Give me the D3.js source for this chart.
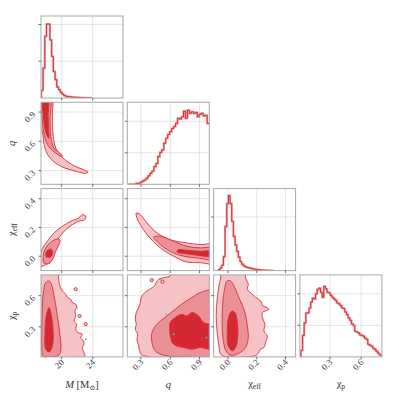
<!DOCTYPE html>
<html>
<head>
<meta charset="utf-8">
<script src="https://cdn.jsdelivr.net/npm/d3@7"></script>
<style>
  body { margin: 0; background: #fff; }
  text { font-family: "Liberation Serif", "DejaVu Serif", serif; }
</style>
</head>
<body>
<div id="chart"></div>
<script>
// ---- axis setup (data) ----
const mDomain = [17.33, 27.9];
const qDomain = [0.16, 1.0];
const chiEffDomain = [-0.1, 0.47];
const chiPDomain = [0.01, 0.8];

const mTicks = [20, 24];
const qTicks = [0.3, 0.6, 0.9];
const chiEffTicks = [0.0, 0.2, 0.4];
const chiPTicks = [0.3, 0.6];

// ---- 1D histograms (bin start, bin width, heights) ----
const mHistStart = 17.38, mHistWidth = 0.22;
const mHist = [0.21, 0.81, 1.68, 2.01, 2.01, 1.58, 1.13, 0.72, 0.50, 0.30, 0.23, 0.16, 0.11, 0.07, 0.05,
  0.04, 0.035, 0.03, 0.025, 0.02, 0.018, 0.015, 0.012, 0.01, 0.008, 0.006, 0.005, 0.004, 0.003];
const mHistTicks = [1, 2], mHistMax = 2.23;

const qHistStart = 0.17, qHistWidth = 0.0202;
const qHist = [0, 0, 0, 0, 0.03, 0.03, 0.06, 0.1, 0.14, 0.19, 0.27, 0.35, 0.42, 0.56, 0.66, 0.88, 1.01, 1.09,
  1.30, 1.46, 1.58, 1.67, 1.77, 1.83, 1.93, 2.09, 2.07, 2.14, 2.32, 2.09, 2.35, 2.25, 2.30, 2.25, 2.28,
  2.14, 2.22, 2.25, 2.17, 2.19, 1.93, 1.93];
const qHistTicks = [1, 2], qHistMax = 2.6;

const chiEffHistStart = -0.066, chiEffHistWidth = 0.0115;
const chiEffHist = [0.02, 0.05, 0.1, 0.26, 0.82, 1.25, 1.40, 1.25, 0.92, 0.64, 0.48, 0.36, 0.25, 0.17, 0.12,
  0.09, 0.07, 0.06, 0.05, 0.044, 0.035, 0.03, 0.025, 0.02, 0.016, 0.012, 0.01, 0.008, 0.006, 0.005,
  0.004, 0.003, 0.002];
const chiEffHistTicks = [1], chiEffHistMax = 1.53;

const chiPHistStart = 0.02, chiPHistWidth = 0.0157;
const chiPHist = [0.21, 0.68, 1.08, 1.39, 1.40, 1.55, 1.74, 1.86, 1.84, 2.0, 2.14, 2.18, 2.05, 1.89, 2.24,
  2.16, 2.05, 2.03, 1.95, 1.89, 1.84, 1.79, 1.71, 1.68, 1.63, 1.55, 1.53, 1.42, 1.34, 1.23, 1.16, 1.05,
  1.0, 0.81, 0.79, 0.76, 0.70, 0.68, 0.66, 0.60, 0.56, 0.40, 0.37, 0.34, 0.28, 0.24, 0.18, 0.13, 0.07, 0.05];
const chiPHistTicks = [1, 2], chiPHistMax = 2.6;

// ---- 2D credible contours [x, y] in data units: outer, middle, inner ----
const qM_outer = [[17.2,1.05],[17.2,0.74],[17.5,0.70],[17.72,0.57],[18.15,0.47],[19.0,0.39],[20.3,0.33],
  [22.0,0.29],[23.1,0.272],[23.4,0.285],[22.9,0.307],[21.6,0.35],[20.3,0.42],[19.66,0.47],[19.23,0.53],
  [19.0,0.6],[18.85,0.7],[18.8,0.8],[18.8,0.9],[18.75,1.05]];
const qM_mid = [[17.45,1.05],[17.5,0.82],[17.75,0.66],[18.3,0.55],[19.2,0.48],[20.0,0.445],[20.15,0.45],
  [19.6,0.49],[19.0,0.53],[18.7,0.6],[18.55,0.7],[18.5,0.82],[18.5,1.05]];
const qM_inner = [[17.6,1.05],[17.65,0.85],[17.85,0.72],[18.1,0.66],[18.35,0.63],[18.3,0.72],[18.25,0.85],[18.2,1.05]];

const chiEffM_outer = [[17.3,-0.07],[17.35,0.034],[18.15,0.104],[19.0,0.162],[20.1,0.208],[21.16,0.243],
  [22.2,0.266],[22.66,0.289],[23.1,0.278],[22.97,0.254],[22.2,0.243],[21.38,0.22],[20.52,0.185],
  [19.79,0.139],[19.23,0.092],[19.0,0.023],[18.58,-0.035],[17.94,-0.058]];
const chiEffM_mid = [[17.72,-0.047],[17.63,0.011],[17.94,0.058],[18.58,0.097],[19.44,0.12],[19.79,0.111],
  [19.66,0.081],[19.23,0.034],[18.8,-0.024],[18.37,-0.051]];
const chiEffM_inner = [[17.94,0.011],[18.15,0.041],[18.67,0.048],[18.84,0.023],[18.58,-0.005],[18.06,-0.007]];

const chiPM_outer = [[17.2,0.85],[19.6,0.85],[19.6,0.79],[19.7,0.71],[20.09,0.646],[20.52,0.614],
  [20.73,0.582],[21.16,0.566],[21.38,0.533],[21.8,0.518],[21.94,0.485],[21.7,0.453],[21.8,0.405],
  [21.59,0.357],[21.94,0.325],[21.8,0.277],[22.1,0.244],[22.66,0.229],[22.45,0.196],[22.8,0.164],
  [22.88,0.132],[22.66,0.1],[22.88,0.052],[23.0,0.02],[22.8,0.005],[17.2,0.005]];
const chiPM_mid = [[17.5,0.03],[17.47,0.405],[17.63,0.63],[17.94,0.726],[18.37,0.742],[18.67,0.71],
  [19.01,0.598],[19.44,0.405],[19.79,0.212],[19.87,0.068],[19.5,0.02],[18.6,0.01],[17.63,0.015]];
const chiPM_inner = [[18.37,0.485],[18.67,0.405],[18.9,0.244],[18.8,0.116],[18.37,0.058],[17.94,0.084],
  [17.85,0.244],[18.0,0.405]];

const chiEffQ_outer = [[0.252,0.301],[0.293,0.289],[0.362,0.231],[0.464,0.162],[0.6,0.115],[0.771,0.092],
  [0.908,0.081],[1.05,0.08],[1.05,-0.047],[0.908,-0.045],[0.771,-0.04],[0.669,-0.012],[0.498,0.058],
  [0.362,0.15],[0.293,0.22],[0.262,0.259]];
const chiEffQ_mid = [[0.43,0.134],[0.498,0.139],[0.634,0.104],[0.771,0.069],[0.908,0.058],[1.05,0.058],
  [1.05,-0.019],[0.874,-0.012],[0.737,0.0],[0.6,0.034],[0.498,0.081],[0.447,0.115]];
const chiEffQ_inner = [[0.669,0.036],[0.686,0.046],[0.771,0.041],[0.908,0.034],[1.05,0.034],[1.05,0.0],
  [0.874,0.007],[0.737,0.02],[0.675,0.027]];

const chiPQ_outer = [[0.6,0.85],[0.6,0.79],[0.532,0.774],[0.481,0.758],[0.447,0.71],[0.43,0.687],
  [0.362,0.646],[0.31,0.598],[0.293,0.533],[0.276,0.485],[0.252,0.437],[0.242,0.373],[0.252,0.325],
  [0.242,0.277],[0.266,0.229],[0.259,0.18],[0.276,0.116],[0.3,0.036],[0.344,0.018],[1.05,0.015],[1.05,0.85]];
const chiPQ_mid = [[1.05,0.646],[0.908,0.63],[0.823,0.582],[0.737,0.533],[0.652,0.469],[0.566,0.405],
  [0.464,0.325],[0.413,0.244],[0.413,0.148],[0.447,0.068],[0.532,0.026],[0.771,0.01],[1.05,0.02]];
const chiPQ_inner = [[0.594,0.277],[0.6,0.341],[0.652,0.389],[0.72,0.421],[0.771,0.405],[0.823,0.437],
  [0.89,0.405],[0.942,0.341],[1.05,0.309],[1.05,0.084],[0.908,0.1],[0.823,0.084],[0.737,0.1],
  [0.634,0.132],[0.6,0.212]];

const chiPChiEff_outer = [[-0.051,0.85],[0.122,0.85],[0.122,0.774],[0.141,0.71],[0.134,0.662],[0.169,0.614],
  [0.192,0.582],[0.227,0.55],[0.243,0.501],[0.273,0.485],[0.284,0.469],[0.261,0.453],[0.238,0.437],
  [0.243,0.373],[0.257,0.325],[0.25,0.26],[0.273,0.212],[0.261,0.148],[0.25,0.1],[0.227,0.084],
  [0.2,0.03],[0.15,0.012],[-0.017,0.013],[-0.051,0.036],[-0.063,0.116],[-0.075,0.244],[-0.082,0.405],
  [-0.075,0.566],[-0.063,0.694],[-0.051,0.774]];
const chiPChiEff_mid = [[-0.005,0.742],[-0.028,0.63],[-0.04,0.405],[-0.034,0.18],[-0.014,0.068],[0.018,0.026],
  [0.076,0.045],[0.122,0.1],[0.141,0.196],[0.134,0.309],[0.118,0.437],[0.076,0.582],[0.041,0.694],[0.018,0.742]];
const chiPChiEff_inner = [[0.03,0.453],[0.006,0.405],[-0.005,0.244],[0.002,0.116],[0.03,0.068],[0.057,0.116],
  [0.069,0.244],[0.064,0.357],[0.048,0.437]];

// small outlying islands of the outer contour
const chiPM_islands = [[21.8,0.662],[22.3,0.405],[23.1,0.325]];
const chiPQ_islands = [[0.41,0.75],[0.52,0.735]];

// spots where the second (cyan) run peeks out
const chiPM_cyan = [[21.94,0.48],[23.1,0.18]];
const chiPQ_cyan = [[0.498,0.758],[0.634,0.229],[0.97,0.196],[0.56,0.42]];

// ---- layout ----
const W = 399, H = 399;
const size = 82, step = 86.3, left0 = 41, top0 = 16;
const fills = ["#f5c3c5", "#eb9096", "#d62830"];
const lineRed = "#d0313a";

const params = [
  { domain: mDomain, ticks: mTicks, fmt: d3.format("d"),
    hist: mHist, hs: mHistStart, hw: mHistWidth, hticks: mHistTicks, hmax: mHistMax },
  { domain: qDomain, ticks: qTicks, fmt: d3.format(".1f"),
    hist: qHist, hs: qHistStart, hw: qHistWidth, hticks: qHistTicks, hmax: qHistMax },
  { domain: chiEffDomain, ticks: chiEffTicks, fmt: d3.format(".1f"),
    hist: chiEffHist, hs: chiEffHistStart, hw: chiEffHistWidth, hticks: chiEffHistTicks, hmax: chiEffHistMax },
  { domain: chiPDomain, ticks: chiPTicks, fmt: d3.format(".1f"),
    hist: chiPHist, hs: chiPHistStart, hw: chiPHistWidth, hticks: chiPHistTicks, hmax: chiPHistMax }
];

const contours = {
  "1,0": [qM_outer, qM_mid, qM_inner],
  "2,0": [chiEffM_outer, chiEffM_mid, chiEffM_inner],
  "3,0": [chiPM_outer, chiPM_mid, chiPM_inner],
  "2,1": [chiEffQ_outer, chiEffQ_mid, chiEffQ_inner],
  "3,1": [chiPQ_outer, chiPQ_mid, chiPQ_inner],
  "3,2": [chiPChiEff_outer, chiPChiEff_mid, chiPChiEff_inner]
};
const islands = { "3,0": chiPM_islands, "3,1": chiPQ_islands };
const cyanSpots = { "3,0": chiPM_cyan, "3,1": chiPQ_cyan };

const svg = d3.select("#chart").append("svg")
  .attr("width", W).attr("height", H);

const defs = svg.append("defs");

for (let i = 0; i < 4; i++) {
  for (let j = 0; j <= i; j++) {
    const px = left0 + j * step, py = top0 + i * step;
    const g = svg.append("g").attr("transform", `translate(${px},${py})`);
    const clipId = `clip-${i}-${j}`;
    defs.append("clipPath").attr("id", clipId)
      .append("rect").attr("width", size).attr("height", size);

    const x = d3.scaleLinear().domain(params[j].domain).range([0, size]);
    let y, yTicks;
    if (i === j) {
      y = d3.scaleLinear().domain([0, params[i].hmax]).range([size, 0]);
      yTicks = params[i].hticks;
    } else {
      y = d3.scaleLinear().domain(params[i].domain).range([size, 0]);
      yTicks = params[i].ticks;
    }

    // grid
    g.selectAll(".vg").data(params[j].ticks).enter().append("line")
      .attr("x1", d => x(d)).attr("x2", d => x(d))
      .attr("y1", 0).attr("y2", size)
      .attr("stroke", "#dedede").attr("stroke-width", 0.8);
    g.selectAll(".hg").data(yTicks).enter().append("line")
      .attr("x1", 0).attr("x2", size)
      .attr("y1", d => y(d)).attr("y2", d => y(d))
      .attr("stroke", "#dedede").attr("stroke-width", 0.8);

    const body = g.append("g").attr("clip-path", `url(#${clipId})`);

    if (i === j) {
      const p = params[i];
      const pts = [[p.hs, 0]];
      p.hist.forEach((h, k) => pts.push([p.hs + k * p.hw, h]));
      pts.push([p.hs + p.hist.length * p.hw, 0]);
      const line = d3.line().curve(d3.curveStepAfter)
        .x(d => x(d[0])).y(d => y(d[1]));
      body.append("path").datum(pts).attr("d", line)
        .attr("fill", "none").attr("stroke", "#eba3a7").attr("stroke-width", 2.2);
      body.append("path").datum(pts).attr("d", line)
        .attr("fill", "none").attr("stroke", lineRed).attr("stroke-width", 1);
    } else {
      const shape = d3.line().curve(d3.curveCatmullRomClosed.alpha(0.5))
        .x(d => x(d[0])).y(d => y(d[1]));
      contours[`${i},${j}`].forEach((poly, k) => {
        body.append("path").datum(poly).attr("d", shape)
          .attr("fill", fills[k]).attr("stroke", lineRed).attr("stroke-width", 0.9);
      });
      (islands[`${i},${j}`] || []).forEach(c => {
        body.append("circle").attr("cx", x(c[0])).attr("cy", y(c[1])).attr("r", 1.6)
          .attr("fill", fills[0]).attr("stroke", lineRed).attr("stroke-width", 0.9);
      });
      (cyanSpots[`${i},${j}`] || []).forEach(c => {
        body.append("circle").attr("cx", x(c[0])).attr("cy", y(c[1])).attr("r", 0.9)
          .attr("fill", "#3fc0d8");
      });
    }

    // frame
    g.append("rect").attr("width", size).attr("height", size)
      .attr("fill", "none").attr("stroke", "#a8a8a8").attr("stroke-width", 1);

    // tick marks
    g.selectAll(".bt").data(params[j].ticks).enter().append("line")
      .attr("x1", d => x(d)).attr("x2", d => x(d))
      .attr("y1", size).attr("y2", size + 2.5)
      .attr("stroke", "#444").attr("stroke-width", 0.8);
    g.selectAll(".lt").data(yTicks).enter().append("line")
      .attr("x1", -2.5).attr("x2", 0)
      .attr("y1", d => y(d)).attr("y2", d => y(d))
      .attr("stroke", "#444").attr("stroke-width", 0.8);

    // tick labels
    if (i === 3) {
      g.selectAll(".bl").data(params[j].ticks).enter().append("text")
        .attr("transform", d => `translate(${x(d) + 3},${size + 6}) rotate(-45)`)
        .attr("text-anchor", "end")
        .attr("font-size", 9).attr("fill", "#3a3a3a")
        .text(d => params[j].fmt(d));
    }
    if (j === 0 && i > 0) {
      g.selectAll(".ll").data(yTicks).enter().append("text")
        .attr("transform", d => `translate(-5,${y(d) + 3}) rotate(-45)`)
        .attr("text-anchor", "end")
        .attr("font-size", 9).attr("fill", "#3a3a3a")
        .text(d => params[i].fmt(d));
    }
  }
}

// axis labels
const lab = svg.append("g").attr("fill", "#333").attr("font-size", 10.5).attr("font-style", "normal");
const colCenter = k => left0 + k * step + size / 2;
const rowCenter = k => top0 + k * step + size / 2;

const mLab = lab.append("text").attr("x", colCenter(0)).attr("y", 388).attr("text-anchor", "middle");
mLab.append("tspan").attr("font-style", "italic").text("M");
mLab.append("tspan").text(" [M");
mLab.append("tspan").attr("font-size", 7).attr("dy", 2).text("⊙");
mLab.append("tspan").attr("dy", -2).text("]");

lab.append("text").attr("x", colCenter(1)).attr("y", 388).attr("text-anchor", "middle")
  .attr("font-style", "italic").text("q");

const ceLab = lab.append("text").attr("x", colCenter(2)).attr("y", 387).attr("text-anchor", "middle");
ceLab.append("tspan").text("χ");
ceLab.append("tspan").attr("font-size", 7.5).attr("dy", 2).text("eff");

const cpLab = lab.append("text").attr("x", colCenter(3)).attr("y", 387).attr("text-anchor", "middle");
cpLab.append("tspan").text("χ");
cpLab.append("tspan").attr("font-size", 7.5).attr("dy", 2).text("p");

lab.append("text").attr("transform", `translate(15,${rowCenter(1)}) rotate(-90)`)
  .attr("text-anchor", "middle").attr("font-style", "italic").text("q");
const ceY = lab.append("text").attr("transform", `translate(15,${rowCenter(2)}) rotate(-90)`)
  .attr("text-anchor", "middle");
ceY.append("tspan").text("χ");
ceY.append("tspan").attr("font-size", 7.5).attr("dy", 2).text("eff");
const cpY = lab.append("text").attr("transform", `translate(15,${rowCenter(3)}) rotate(-90)`)
  .attr("text-anchor", "middle");
cpY.append("tspan").text("χ");
cpY.append("tspan").attr("font-size", 7.5).attr("dy", 2).text("p");
</script>
</body>
</html>
